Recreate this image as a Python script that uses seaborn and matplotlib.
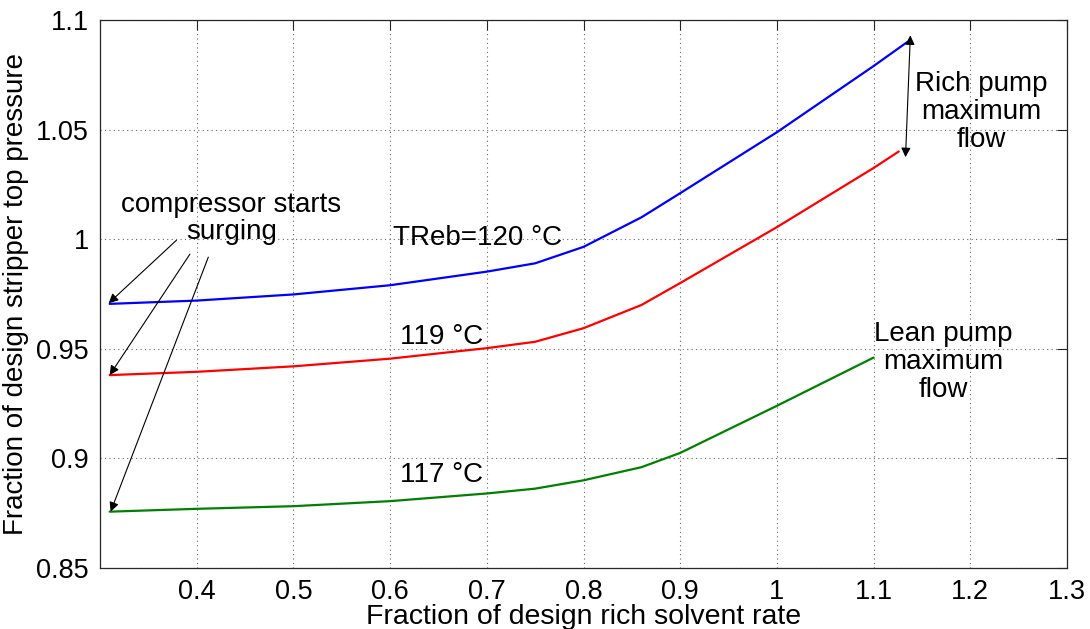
import numpy as np
import pandas as pd
import matplotlib
matplotlib.use("Agg")
import matplotlib.pyplot as plt
import seaborn as sns

# Data
x_120 = [0.31, 0.40, 0.50, 0.60, 0.70, 0.75, 0.80, 0.86, 0.90, 1.00, 1.10, 1.135]
y_120 = [0.9705, 0.9720, 0.9748, 0.9790, 0.9852, 0.9890, 0.9965, 1.0100, 1.0210, 1.0488, 1.0790, 1.0900]

x_119 = [0.31, 0.40, 0.50, 0.60, 0.70, 0.75, 0.80, 0.86, 0.90, 1.00, 1.10, 1.126]
y_119 = [0.9380, 0.9395, 0.9420, 0.9455, 0.9503, 0.9532, 0.9594, 0.9700, 0.9800, 1.0055, 1.0325, 1.0400]

x_117 = [0.31, 0.40, 0.50, 0.60, 0.70, 0.75, 0.80, 0.86, 0.90, 1.00, 1.10]
y_117 = [0.8757, 0.8770, 0.8782, 0.8805, 0.8840, 0.8862, 0.8900, 0.8960, 0.9025, 0.9240, 0.9460]

series_names = ["120", "119", "117"]
series_colors = ["#0000ff", "#ff0000", "#008000"]

x_ticks = [0.4, 0.5, 0.6, 0.7, 0.8, 0.9, 1.0, 1.1, 1.2, 1.3]
x_tick_labels = ["0.4", "0.5", "0.6", "0.7", "0.8", "0.9", "1", "1.1", "1.2", "1.3"]
y_ticks = [0.85, 0.9, 0.95, 1.0, 1.05, 1.1]
y_tick_labels = ["0.85", "0.9", "0.95", "1", "1.05", "1.1"]

df = pd.concat([
    pd.DataFrame({"x": x_120, "y": y_120, "T": "120"}),
    pd.DataFrame({"x": x_119, "y": y_119, "T": "119"}),
    pd.DataFrame({"x": x_117, "y": y_117, "T": "117"}),
], ignore_index=True)

sns.set_style("white")
plt.rcParams["font.family"] = ["Liberation Sans", "DejaVu Sans"]
plt.rcParams["text.color"] = "black"
plt.rcParams["axes.labelcolor"] = "black"

fig = plt.figure(figsize=(10.9, 6.29), dpi=100)
ax = fig.add_axes([100 / 1090, 1 - 568 / 629, 967 / 1090, 548 / 629])

sns.lineplot(data=df, x="x", y="y", hue="T", hue_order=series_names,
             palette=dict(zip(series_names, series_colors)),
             linewidth=1.6, legend=False, ax=ax, sort=False)

ax.set_xlim(0.3, 1.3)
ax.set_ylim(0.85, 1.1)
ax.set_xticks(x_ticks)
ax.set_xticklabels(x_tick_labels)
ax.set_yticks(y_ticks)
ax.set_yticklabels(y_tick_labels)
ax.tick_params(direction="in", length=7, width=0.8, top=True, right=True,
               labelsize=19.5, colors="#262626", labelcolor="black", pad=8)
ax.grid(True, linestyle=(0, (1, 3)), color="#666666", linewidth=0.8)
for s in ax.spines.values():
    s.set_visible(True)
    s.set_color("#262626")
    s.set_linewidth(0.9)

ax.set_xlabel("Fraction of design rich solvent rate", fontsize=20.5, labelpad=-1)
ax.set_ylabel("Fraction of design stripper top pressure", fontsize=20, labelpad=5)

fs = 20
ax.text(0.436, 1.0095, "compressor starts\nsurging", ha="center", va="center",
        fontsize=fs, linespacing=1.05)
ax.text(0.603, 1.0005, "TReb=120 °C", ha="left", va="center", fontsize=fs)
ax.text(0.610, 0.9555, "119 °C", ha="left", va="center", fontsize=fs)
ax.text(0.610, 0.8925, "117 °C", ha="left", va="center", fontsize=fs)
ax.text(1.2115, 1.058, "Rich pump\nmaximum\nflow", ha="center", va="center",
        fontsize=fs, linespacing=1.1)
ax.text(1.172, 0.944, "Lean pump\nmaximum\nflow", ha="center", va="center",
        fontsize=fs, linespacing=1.1)

arrow_kw = dict(arrowstyle="-|>", color="black", lw=0.8, mutation_scale=14,
                shrinkA=0, shrinkB=0)
ax.annotate("", xy=(0.309, 0.9708), xytext=(0.379, 0.9995), arrowprops=arrow_kw)
ax.annotate("", xy=(0.310, 0.9380), xytext=(0.393, 0.9932), arrowprops=arrow_kw)
ax.annotate("", xy=(0.311, 0.8757), xytext=(0.412, 0.9918), arrowprops=arrow_kw)
ax.annotate("", xy=(1.138, 1.093), xytext=(1.133, 1.0374),
            arrowprops=dict(arrowstyle="<|-|>", color="black", lw=0.8,
                            mutation_scale=14, shrinkA=0, shrinkB=0))

fig.savefig("out.png", dpi=100)
